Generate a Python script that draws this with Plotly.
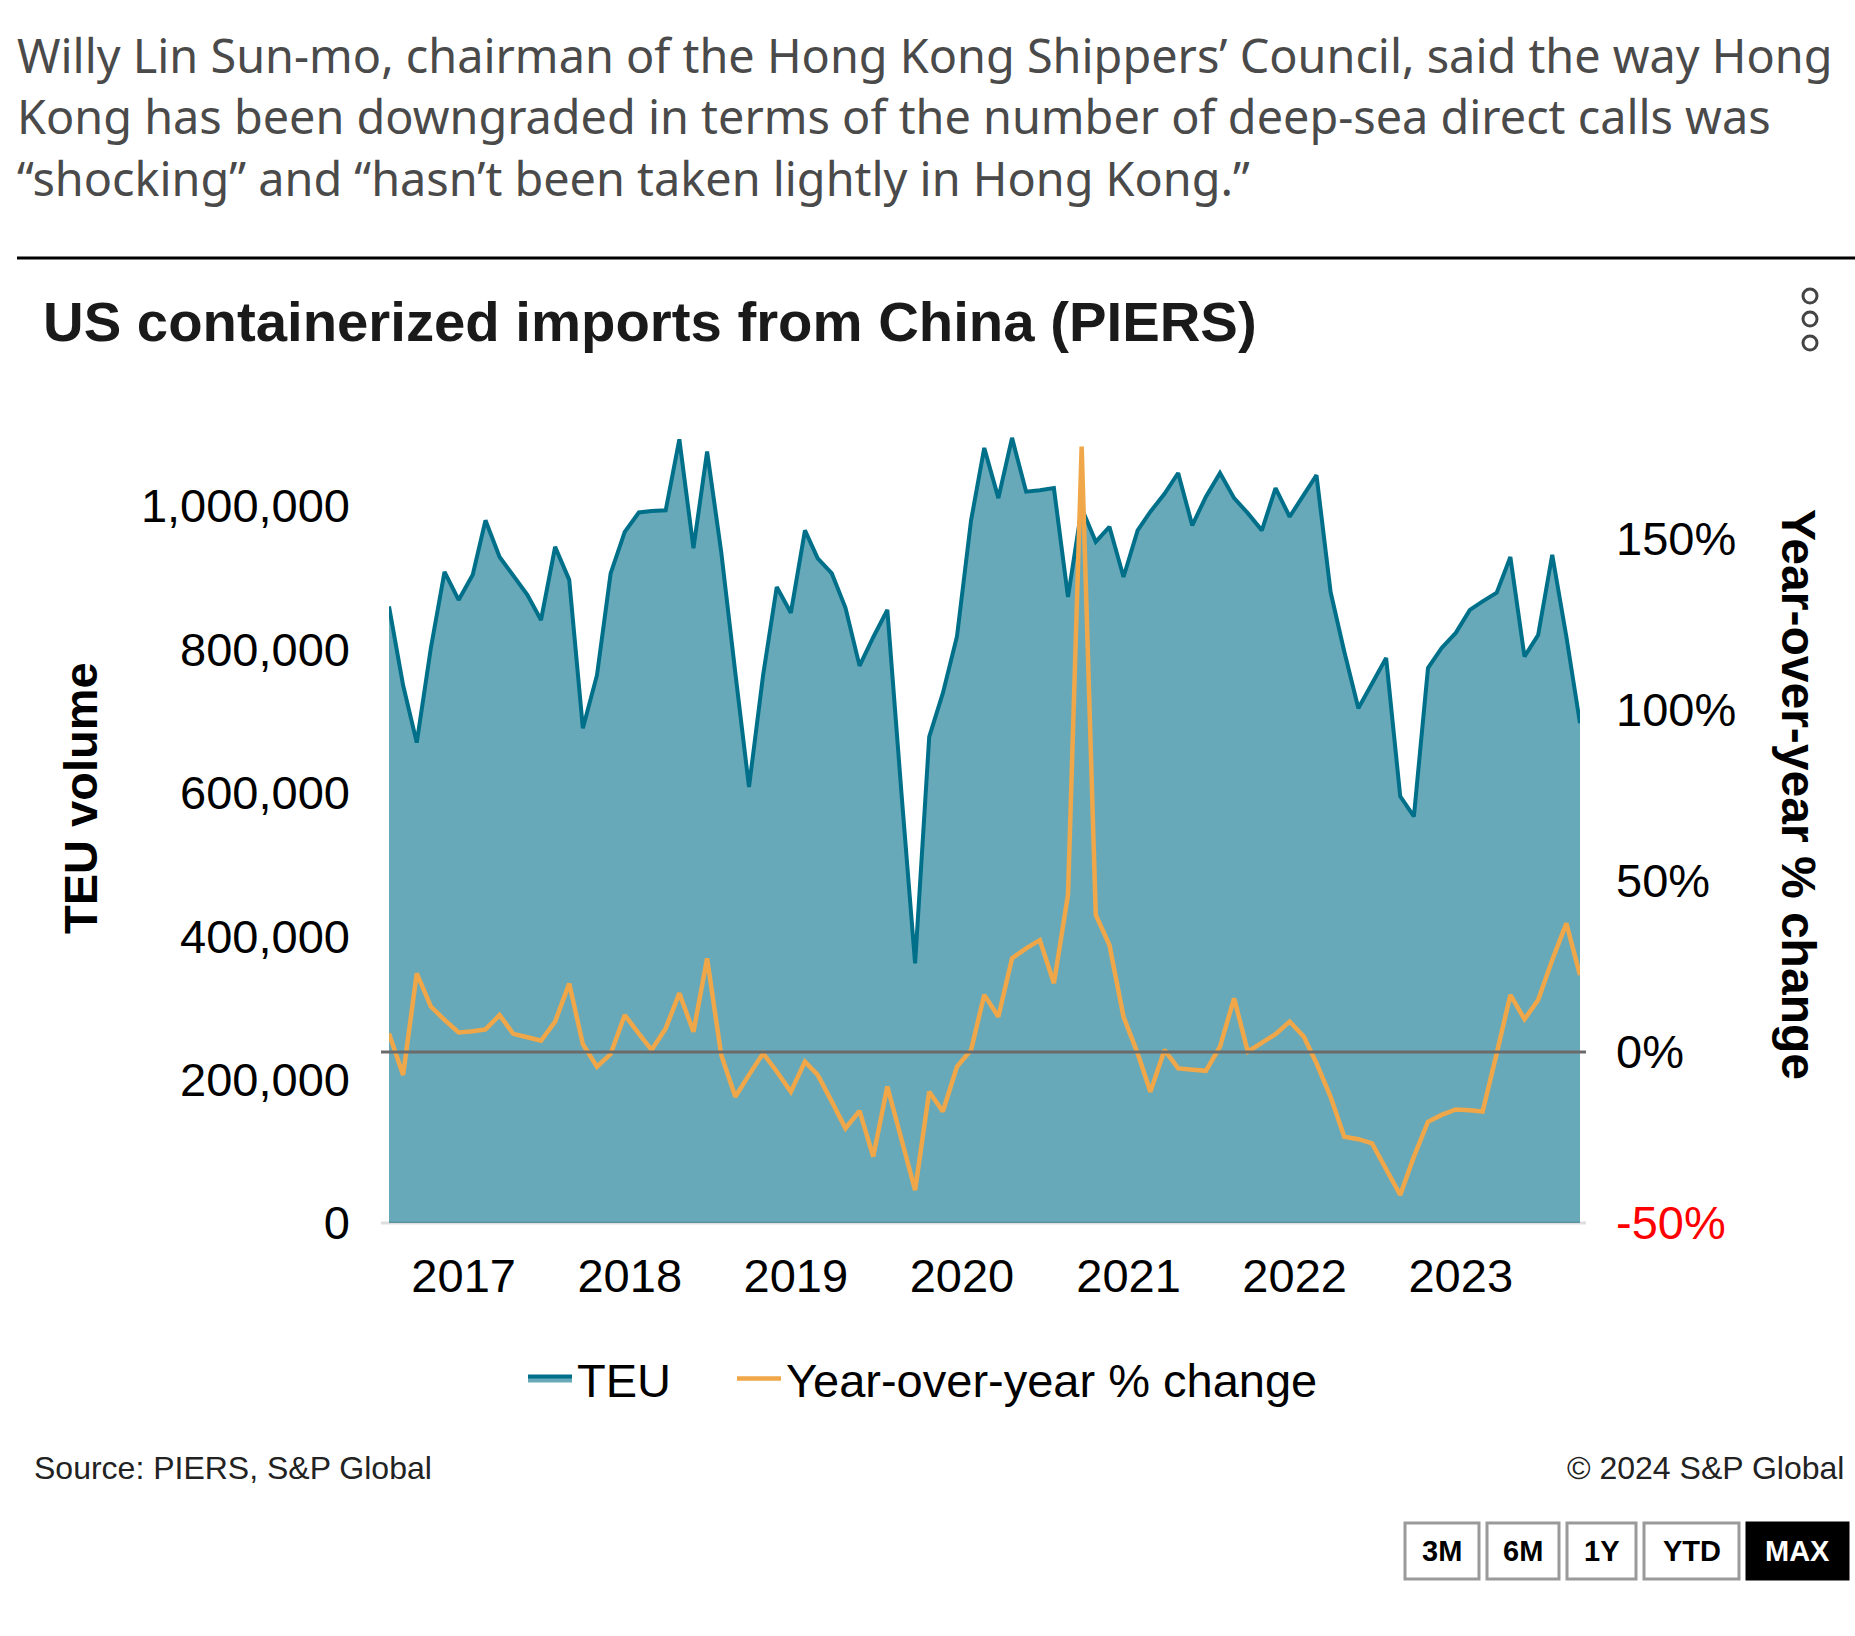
import pandas as pd
import plotly.graph_objects as go

W, H = 1855, 1636

# ---------------- data ----------------
months = pd.date_range("2016-08-01", periods=87, freq="MS")

teu = [860000, 750000, 670000, 802000, 908000, 869000, 904000, 980000, 929000, 904000,
       876000, 841000, 943000, 897000, 690000, 764000, 906000, 964000, 991000, 993000,
       994000, 1093000, 941000, 1076000, 936000, 767000, 608000, 764000, 887000, 851000,
       966000, 927000, 906000, 858000, 777000, 817000, 855000, 600000, 362000, 678000,
       739000, 818000, 980000, 1081000, 1011000, 1095000, 1020000, 1022000, 1025000, 873000,
       997000, 950000, 971000, 901000, 966000, 992000, 1017000, 1046000, 973000, 1013000,
       1046000, 1011000, 990000, 966000, 1025000, 985000, 1015000, 1043000, 880000, 797000,
       718000, 753000, 788000, 595000, 567000, 774000, 802000, 823000, 855000, 867000,
       879000, 929000, 790000, 820000, 932000, 818000, 697000]

yoy = [5.4, -6.7, 23.0, 13.3, 9.4, 5.7, 6.1, 6.6, 10.8, 5.3,
       4.3, 3.3, 8.9, 20.0, 2.3, -4.3, -0.6, 10.8, 5.4, 0.6,
       6.9, 17.2, 5.9, 27.4, -0.9, -13.1, -6.7, -0.4, -5.7, -11.6,
       -2.8, -6.7, -14.5, -22.3, -17.2, -30.6, -10.1, -25.2, -40.4, -11.6,
       -17.4, -4.3, 0.6, 16.7, 10.3, 27.4, 30.3, 32.7, 20.1, 46.0,
       177.0, 40.1, 31.3, 10.3, -0.4, -11.6, 0.6, -4.8, -5.1, -5.5,
       1.6, 15.7, 0.1, 2.5, 5.2, 8.9, 4.5, -3.3, -13.1, -24.8,
       -25.5, -26.7, -34.5, -41.8, -30.6, -20.4, -18.4, -16.8, -17.0, -17.4,
       -0.4, 16.7, 9.6, 15.2, 26.9, 37.6, 22.5]

teu_ticks = [0, 200000, 400000, 600000, 800000, 1000000]
yoy_ticks = [-50, 0, 50, 100, 150]
yoy_ticktext = ['<span style="color:#ff0000">-50%</span>', "0%", "50%", "100%", "150%"]
year_ticks = ["2017-01-01", "2018-01-01", "2019-01-01", "2020-01-01",
              "2021-01-01", "2022-01-01", "2023-01-01"]
year_labels = ["2017", "2018", "2019", "2020", "2021", "2022", "2023"]

paragraph = [
    "Willy Lin Sun-mo, chairman of the Hong Kong Shippers’ Council, said the way Hong",
    "Kong has been downgraded in terms of the number of deep-sea direct calls was",
    "“shocking” and “hasn’t been taken lightly in Hong Kong.”",
]
buttons = ["3M", "6M", "1Y", "YTD", "MAX"]

# ---------------- helpers ----------------
def px(x):
    return x / W


def py(y):
    return 1 - y / H


TEAL_FILL = "#67A9B9"
TEAL_LINE = "#00708A"
ORANGE = "#F0A749"
FONT = "Liberation Sans, Arial, sans-serif"

plot_left, plot_right = 389, 1580
plot_top, plot_bottom = 425, 1223
px_per_teu = 717 / 1_000_000
px_per_pct = 171 / 50

fig = go.Figure()
fig.add_trace(go.Scatter(
    x=months, y=teu, name="TEU", mode="lines",
    line=dict(color=TEAL_LINE, width=4), fill="tozeroy", fillcolor=TEAL_FILL,
    yaxis="y", legendwidth=150,
))
fig.add_trace(go.Scatter(
    x=months, y=yoy, name="Year-over-year % change", mode="lines",
    line=dict(color=ORANGE, width=4.5), yaxis="y2",
))

teu_max = (plot_bottom - plot_top) / px_per_teu
yoy_max = -50 + (plot_bottom - plot_top) / px_per_pct

fig.update_layout(
    width=W, height=H,
    margin=dict(l=0, r=0, t=0, b=0, autoexpand=False),
    paper_bgcolor="white", plot_bgcolor="white",
    font=dict(family=FONT, size=47, color="#000000"),
    showlegend=True,
    legend=dict(orientation="h", x=px(523), xanchor="left", y=py(1379), yanchor="middle",
                font=dict(size=47, color="#000000"), itemwidth=44, traceorder="normal"),
    xaxis=dict(
        domain=[px(plot_left), px(plot_right)], range=[months[0], months[-1]],
        type="date", tickvals=year_ticks, ticktext=year_labels,
        showgrid=False, zeroline=False, showline=False, ticks="",
        ticklabelstandoff=21, ticklabelshift=5, tickfont=dict(size=47, color="#000000"),
    ),
    yaxis=dict(
        domain=[py(plot_bottom), py(plot_top)], range=[0, teu_max],
        tickvals=teu_ticks, tickformat=",d", showgrid=False, zeroline=False,
        showline=False, ticks="", ticklabelstandoff=38,
        tickfont=dict(size=47, color="#000000"),
    ),
    yaxis2=dict(
        overlaying="y", side="right", range=[-50, yoy_max],
        tickvals=yoy_ticks, ticktext=yoy_ticktext, showgrid=False, zeroline=False,
        showline=False, ticks="", ticklabelstandoff=35,
        tickfont=dict(size=47, color="#000000"),
    ),
)

shapes = []
# top rule
shapes.append(dict(type="line", xref="paper", yref="paper", x0=px(17), x1=1, y0=py(258), y1=py(258),
                   line=dict(color="#000000", width=3)))
# zero line on the percent axis
shapes.append(dict(type="line", xref="paper", yref="y2", x0=px(381), x1=px(1586), y0=0, y1=0,
                   line=dict(color="#6b6b6b", width=3), layer="above"))
# bottom baseline
shapes.append(dict(type="line", xref="paper", yref="paper", x0=px(381), x1=px(1586),
                   y0=py(1223), y1=py(1223), line=dict(color="rgba(0,0,0,0.13)", width=3), layer="above"))
# kebab menu icon
for cy in (296, 319, 343):
    shapes.append(dict(type="circle", xref="paper", yref="paper",
                       x0=px(1803), x1=px(1817), y0=py(cy + 7), y1=py(cy - 7),
                       line=dict(color="#444444", width=3)))

# buttons
btn_x = [(1405, 1479), (1487, 1559), (1567, 1636), (1644, 1739), (1747, 1848)]
annotations = []
for label, (bx0, bx1) in zip(buttons, btn_x):
    active = label == "MAX"
    shapes.append(dict(type="rect", xref="paper", yref="paper",
                       x0=px(bx0), x1=px(bx1), y0=py(1579), y1=py(1523),
                       line=dict(color="#000000" if active else "#9a9a9a", width=3),
                       fillcolor="#000000" if active else "#ffffff"))
    annotations.append(dict(xref="paper", yref="paper", x=px((bx0 + bx1) / 2), y=py(1551),
                            xanchor="center", yanchor="middle", showarrow=False,
                            text=f"<b>{label}</b>",
                            font=dict(family=FONT, size=29, color="#ffffff" if active else "#000000")))

# paragraph
for i, line in enumerate(paragraph):
    annotations.append(dict(xref="paper", yref="paper", x=px(15), y=py(55 + 61.5 * i),
                            xanchor="left", yanchor="middle", showarrow=False, text=line,
                            font=dict(family="Noto Sans, Open Sans, sans-serif", size=46.8, color="#4a4a4a")))

# title
annotations.append(dict(xref="paper", yref="paper", x=px(41), y=py(322), xanchor="left", yanchor="middle",
                        showarrow=False, text="<b>US containerized imports from China (PIERS)</b>",
                        font=dict(family=FONT, size=56.3, color="#1a1a1a")))
# axis titles
annotations.append(dict(xref="paper", yref="paper", x=px(80), y=py(798), xanchor="center", yanchor="middle",
                        showarrow=False, text="<b>TEU volume</b>", textangle=-90,
                        font=dict(family=FONT, size=47, color="#000000")))
annotations.append(dict(xref="paper", yref="paper", x=px(1799), y=py(794), xanchor="center", yanchor="middle",
                        showarrow=False, text="<b>Year-over-year % change</b>", textangle=90,
                        font=dict(family=FONT, size=48, color="#000000")))
# source / copyright
annotations.append(dict(xref="paper", yref="paper", x=px(32), y=py(1468), xanchor="left", yanchor="middle",
                        showarrow=False, text="Source: PIERS, S&P Global",
                        font=dict(family=FONT, size=32, color="#222222")))
annotations.append(dict(xref="paper", yref="paper", x=px(1846), y=py(1468), xanchor="right", yanchor="middle",
                        showarrow=False, text="© 2024 S&P Global",
                        font=dict(family=FONT, size=32, color="#222222")))

fig.update_layout(shapes=shapes, annotations=annotations)
fig.write_html("out.html")
